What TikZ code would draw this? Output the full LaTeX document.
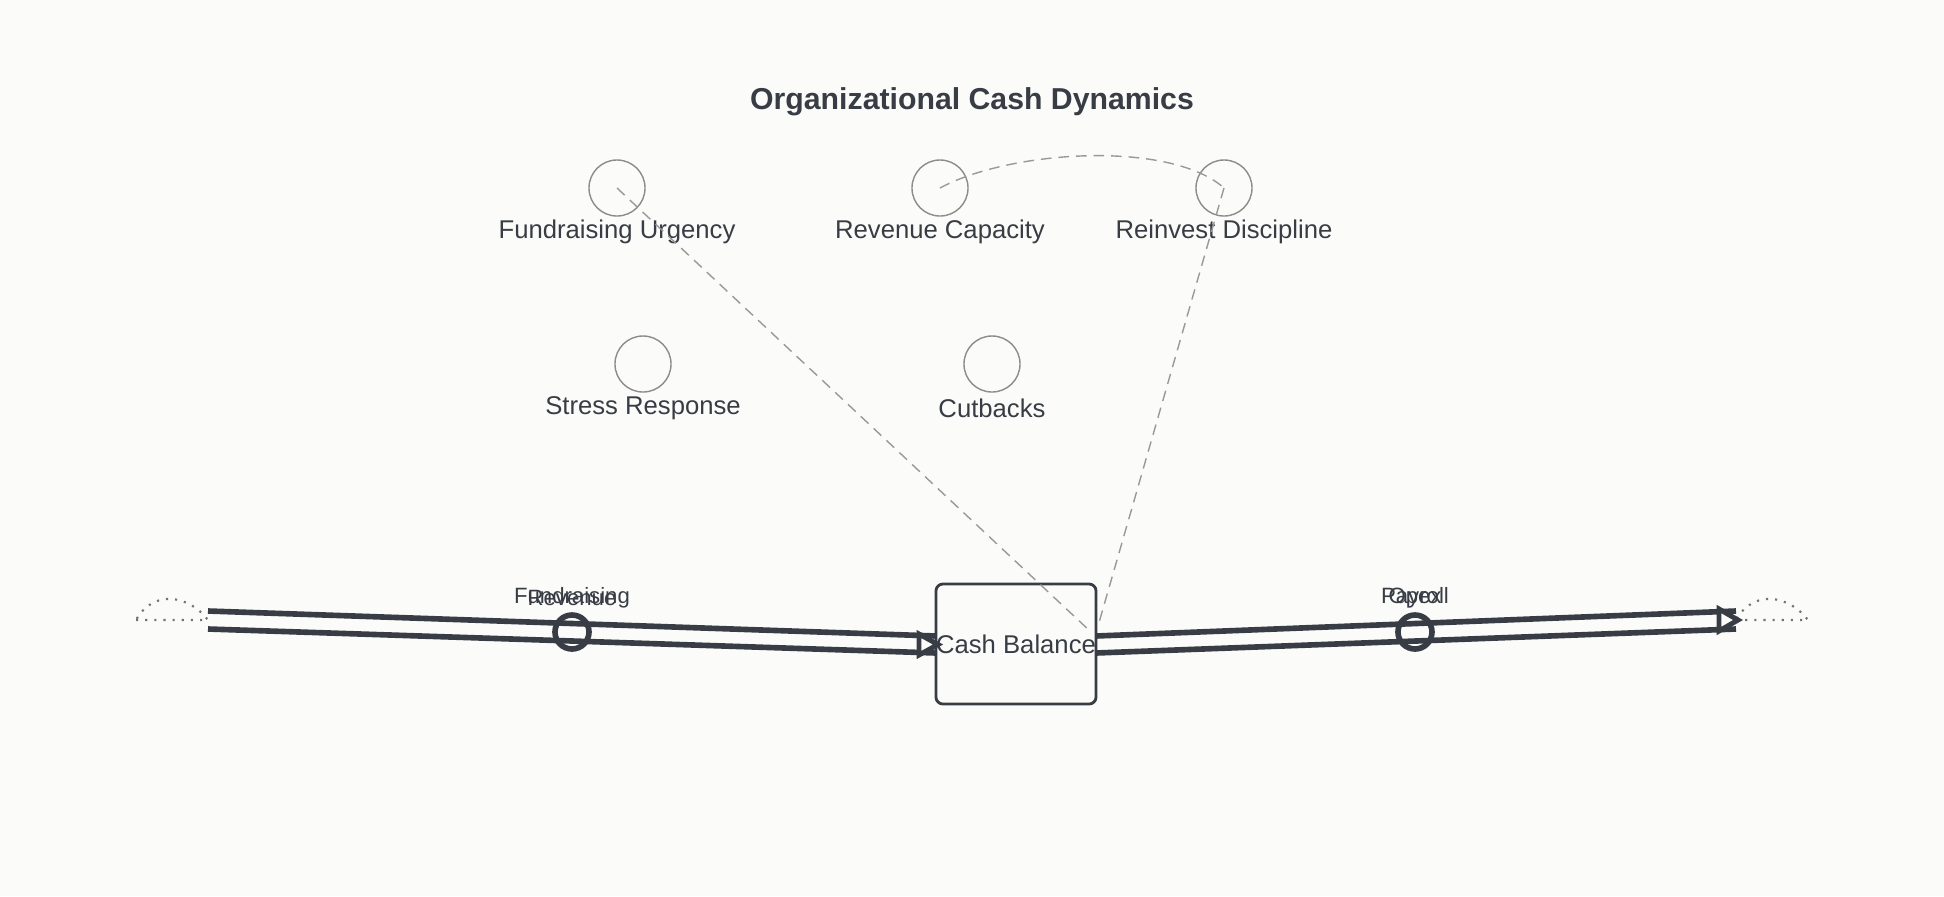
\documentclass[tikz,border=0pt]{standalone}
\usepackage{fontspec}
\setmainfont{Liberation Sans}
\usetikzlibrary{positioning}
\definecolor{ink}{HTML}{383D45}
\definecolor{paper}{HTML}{FBFBF9}
\tikzset{
    aux/.style={circle,draw=black!45,line width=.4pt,minimum size=0.56cm,inner sep=0},
    auxlabel/.style={font=\fontsize{7.3}{9}\selectfont,text=ink},
    stock/.style={draw=ink,line width=.8pt,rounded corners=2pt,minimum width=1.6cm,minimum height=1.2cm,inner sep=0,font=\fontsize{7.3}{9}\selectfont,text=ink},
    pipe/.style={draw=ink,line width=1.6pt},
    valve/.style={circle,draw=ink,line width=1.6pt,minimum size=0.34cm,inner sep=0},
    flowlabel/.style={font=\fontsize{6.3}{8}\selectfont,text=ink},
    link/.style={draw=black!40,line width=.4pt,dash pattern=on 3pt off 2pt},
    cloud/.style={draw=black!55,line width=.6pt,dotted},
    tip/.style={draw=ink,fill=paper,line width=1.4pt,line join=miter}
}
\begin{document}
\begin{tikzpicture}[x=0.01cm,y=-0.01cm]
\path[fill=paper] (0,0) rectangle (1944,896);
\useasboundingbox (0,0) rectangle (1944,896);
\node[font=\bfseries\fontsize{8.6}{10}\selectfont,text=ink] (title) at (972,102){Organizational Cash Dynamics};
%auxiliaries
\foreach \n/\x/\y/\t in {fu/617/188/Fundraising Urgency, rc/940/188/Revenue Capacity, rd/1224/188/Reinvest Discipline, sr/643/364/Stress Response, cb/992/364/Cutbacks}{
    \node[aux] (\n) at (\x,\y){};
    \node[auxlabel] (\n-l) at (\x,\y+44){\t};
}
%stock
\node[stock] (cash) at (1016,644){Cash Balance};
%clouds
\draw[cloud] (136,620) -- (208,620) .. controls (190,596) and (154,588) .. (136,620);
\draw[cloud] (1736,620) -- (1808,620) .. controls (1790,596) and (1754,588) .. (1736,620);
\coordinate (l1) at (208,611); \coordinate (l2) at (208,629);
\coordinate (r1) at (1736,611); \coordinate (r2) at (1736,629);
\coordinate (c1) at (936,636); \coordinate (c2) at (936,653);
\coordinate (d1) at (1096,636); \coordinate (d2) at (1096,653);
%flows
\path[pipe] (l1) -- (c1) (l2) -- (c2);
\path[pipe] (d1) -- (r1) (d2) -- (r2);
\draw[tip] (919,634) -- (938,644.5) -- (919,655) -- cycle;
\draw[tip] (1719,609) -- (1738,620) -- (1719,631) -- cycle;
\node[valve] (vin) at (572,632){};
\node[valve] (vout) at (1415,632){};
\node[flowlabel] (fund) at (572,598){Fundraising};
\node[flowlabel] (rev) at (572,598){Revenue};
\node[flowlabel] (pay) at (1415,598){Payroll};
\node[flowlabel] (opex) at (1415,598){Opex};
%links
\draw[link] (fu.center) -- (1091,632);
\draw[link] (rd.center) -- (1098,626);
\draw[link] (rc.center) .. controls (1010,150) and (1170,140) .. (rd.center);
\end{tikzpicture}
\end{document}
